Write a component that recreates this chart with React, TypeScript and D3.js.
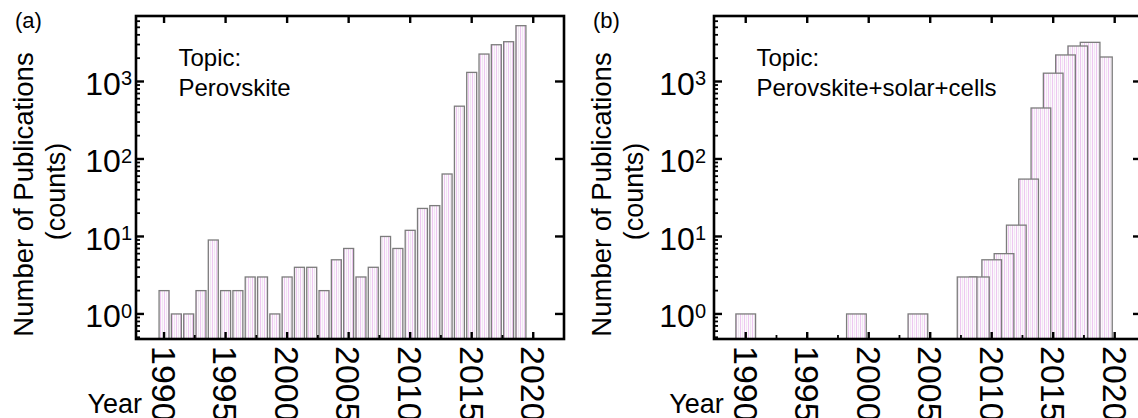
import React from "react";
import * as d3 from "d3";

const W = 1138;
const H = 418;
const FONT = "'Liberation Sans', Arial, Helvetica, sans-serif";

// Publications per year, topic "Perovskite"
const yearsA = [
  1990, 1991, 1992, 1993, 1994, 1995, 1996, 1997, 1998, 1999,
  2000, 2001, 2002, 2003, 2004, 2005, 2006, 2007, 2008, 2009,
  2010, 2011, 2012, 2013, 2014, 2015, 2016, 2017, 2018, 2019,
];
const countsA = [
  2, 1, 1, 2, 9, 2, 2, 3, 3, 1,
  3, 4, 4, 2, 5, 7, 3, 4, 10, 7,
  12, 23, 25, 64, 480, 1310, 2260, 2980, 3260, 5250,
];

// Publications per year, topic "Perovskite+solar+cells"
const yearsB = [1990, 1999, 2004, 2008, 2009, 2010, 2011, 2012, 2013, 2014, 2015, 2016, 2017, 2018, 2019];
const countsB = [1, 1, 1, 3, 3, 5, 6, 14, 55, 455, 1280, 2200, 2870, 3200, 2070];

const yearTicks = [1990, 1995, 2000, 2005, 2010, 2015, 2020];
const countDomain = [0.475, 7000];

const plotTop = 16;
const plotBottom = 339;
const plotWidth = 428;

type PanelProps = {
  left: number;
  tag: string;
  topic: string[];
  years: number[];
  counts: number[];
  xDomain: [number, number];
  barYears: number;
  earlierOnTop: boolean;
  labelPad: number;
  patternId: string;
};

function Panel({ left, tag, topic, years, counts, xDomain, barYears, earlierOnTop, labelPad, patternId }: PanelProps) {
  const right = left + plotWidth;
  const x = d3.scaleLinear().domain(xDomain).range([left, right]);
  const y = d3.scaleLog().domain(countDomain).range([plotBottom, plotTop]);

  const yTicks = y.ticks().filter((t) => t >= countDomain[0] && t <= countDomain[1]);
  const isDecade = (t: number) => Math.abs(Math.log10(t) - Math.round(Math.log10(t))) < 1e-9;
  const yMajor = yTicks.filter(isDecade);
  const yMinor = yTicks.filter((t) => !isDecade(t));

  const xMinor = [yearTicks[0] - 2.5, ...yearTicks.map((t) => t + 2.5)].filter(
    (t) => t > xDomain[0] + 0.3 && t < xDomain[1] - 0.3
  );

  const bw = x(xDomain[0] + barYears) - x(xDomain[0]);
  const idx = years.map((_, i) => i);
  const order = earlierOnTop ? idx.slice().reverse() : idx;

  const axisColor = "#000";
  const majorW = 2.4;
  const minorW = 1.8;

  return (
    <g>
      {/* bars */}
      {order.map((i) => {
        const yv = y(counts[i]);
        return (
          <rect
            key={"bar" + i}
            x={x(years[i]) - bw / 2}
            y={yv}
            width={bw}
            height={plotBottom - yv}
            fill={`url(#${patternId})`}
            stroke="#7c7c7c"
            strokeWidth={1.3}
          />
        );
      })}

      {/* left axis ticks */}
      {yMajor.map((t) => (
        <line key={"lM" + t} x1={left} x2={left + 8} y1={y(t)} y2={y(t)} stroke={axisColor} strokeWidth={majorW} />
      ))}
      {yMinor.map((t) => (
        <line key={"lm" + t} x1={left} x2={left + 4} y1={y(t)} y2={y(t)} stroke={axisColor} strokeWidth={minorW} />
      ))}
      {/* right axis ticks */}
      {yMajor.map((t) => (
        <line key={"rM" + t} x1={right - 9} x2={right} y1={y(t)} y2={y(t)} stroke={axisColor} strokeWidth={majorW} />
      ))}
      {/* top axis ticks */}
      {yearTicks.map((t) => (
        <line key={"tM" + t} x1={x(t)} x2={x(t)} y1={plotTop} y2={plotTop + 7} stroke={axisColor} strokeWidth={majorW} />
      ))}
      {/* bottom axis ticks */}
      {yearTicks.map((t) => (
        <line key={"bM" + t} x1={x(t)} x2={x(t)} y1={plotBottom} y2={plotBottom - 7} stroke={axisColor} strokeWidth={majorW} />
      ))}
      {xMinor.map((t) => (
        <line key={"bm" + t} x1={x(t)} x2={x(t)} y1={plotBottom} y2={plotBottom - 4} stroke={axisColor} strokeWidth={minorW} />
      ))}

      {/* frame */}
      <rect x={left} y={plotTop} width={plotWidth} height={plotBottom - plotTop} fill="none" stroke={axisColor} strokeWidth={2.6} />

      {/* y tick labels: 10^n */}
      {yMajor.map((t) => (
        <text
          key={"yl" + t}
          x={left - labelPad}
          y={y(t) + 13.5}
          textAnchor="end"
          fontFamily={FONT}
          fontSize={32}
          fill="#000"
        >
          <tspan>10</tspan>
          <tspan dy={-9.5} fontSize={20}>{Math.round(Math.log10(t))}</tspan>
        </text>
      ))}

      {/* x tick labels, rotated */}
      {yearTicks.map((t) => (
        <text
          key={"xl" + t}
          transform={`translate(${x(t)},346) rotate(90)`}
          x={0}
          dy="0.358em"
          fontFamily={FONT}
          fontSize={34}
          fill="#000"
        >
          {t}
        </text>
      ))}

      {/* axis titles */}
      <text
        transform={`translate(${left - 103},194.5) rotate(-90)`}
        textAnchor="middle"
        fontFamily={FONT}
        fontSize={27.5}
        fill="#000"
      >
        Number of Publications
      </text>
      <text
        transform={`translate(${left - 71},191.5) rotate(-90)`}
        textAnchor="middle"
        fontFamily={FONT}
        fontSize={27}
        fill="#000"
      >
        (counts)
      </text>
      <text x={x(yearTicks[0]) - 22} y={413} textAnchor="end" fontFamily={FONT} fontSize={27} fill="#000">
        Year
      </text>

      {/* panel tag */}
      <text x={left - 121} y={28} fontFamily={FONT} fontSize={22} fill="#000">
        {tag}
      </text>

      {/* topic annotation */}
      {topic.map((line, i) => (
        <text key={"tp" + i} x={left + 42.5} y={65.5 + i * 30} fontFamily={FONT} fontSize={24} fill="#000">
          {line}
        </text>
      ))}
    </g>
  );
}

function StripePattern({ id }: { id: string }) {
  return (
    <pattern id={id} patternUnits="userSpaceOnUse" width={4} height={4}>
      <rect x={0} y={0} width={4} height={4} fill="#fdf8fd" />
      <rect x={0} y={0} width={1} height={4} fill="#edc8f1" />
      <rect x={2} y={0} width={1} height={4} fill="#efe7f1" />
    </pattern>
  );
}

export default function App() {
  return (
    <svg
      width={W}
      height={H}
      viewBox={`0 0 ${W} ${H}`}
      style={{ position: "fixed", left: 0, top: 0, background: "#fff" }}
    >
      <defs>
        <StripePattern id="stripeA" />
        <StripePattern id="stripeB" />
      </defs>
      <rect x={0} y={0} width={W} height={H} fill="#fff" />
      <Panel
        left={136}
        tag="(a)"
        topic={["Topic:", "Perovskite"]}
        years={yearsA}
        counts={countsA}
        xDomain={[1987.72, 2022.5]}
        barYears={0.81}
        earlierOnTop={false}
        labelPad={4}
        patternId="stripeA"
      />
      <Panel
        left={714}
        tag="(b)"
        topic={["Topic:", "Perovskite+solar+cells"]}
        years={yearsB}
        counts={countsB}
        xDomain={[1987.42, 2022.22]}
        barYears={1.6}
        earlierOnTop={true}
        labelPad={8}
        patternId="stripeB"
      />
    </svg>
  );
}
